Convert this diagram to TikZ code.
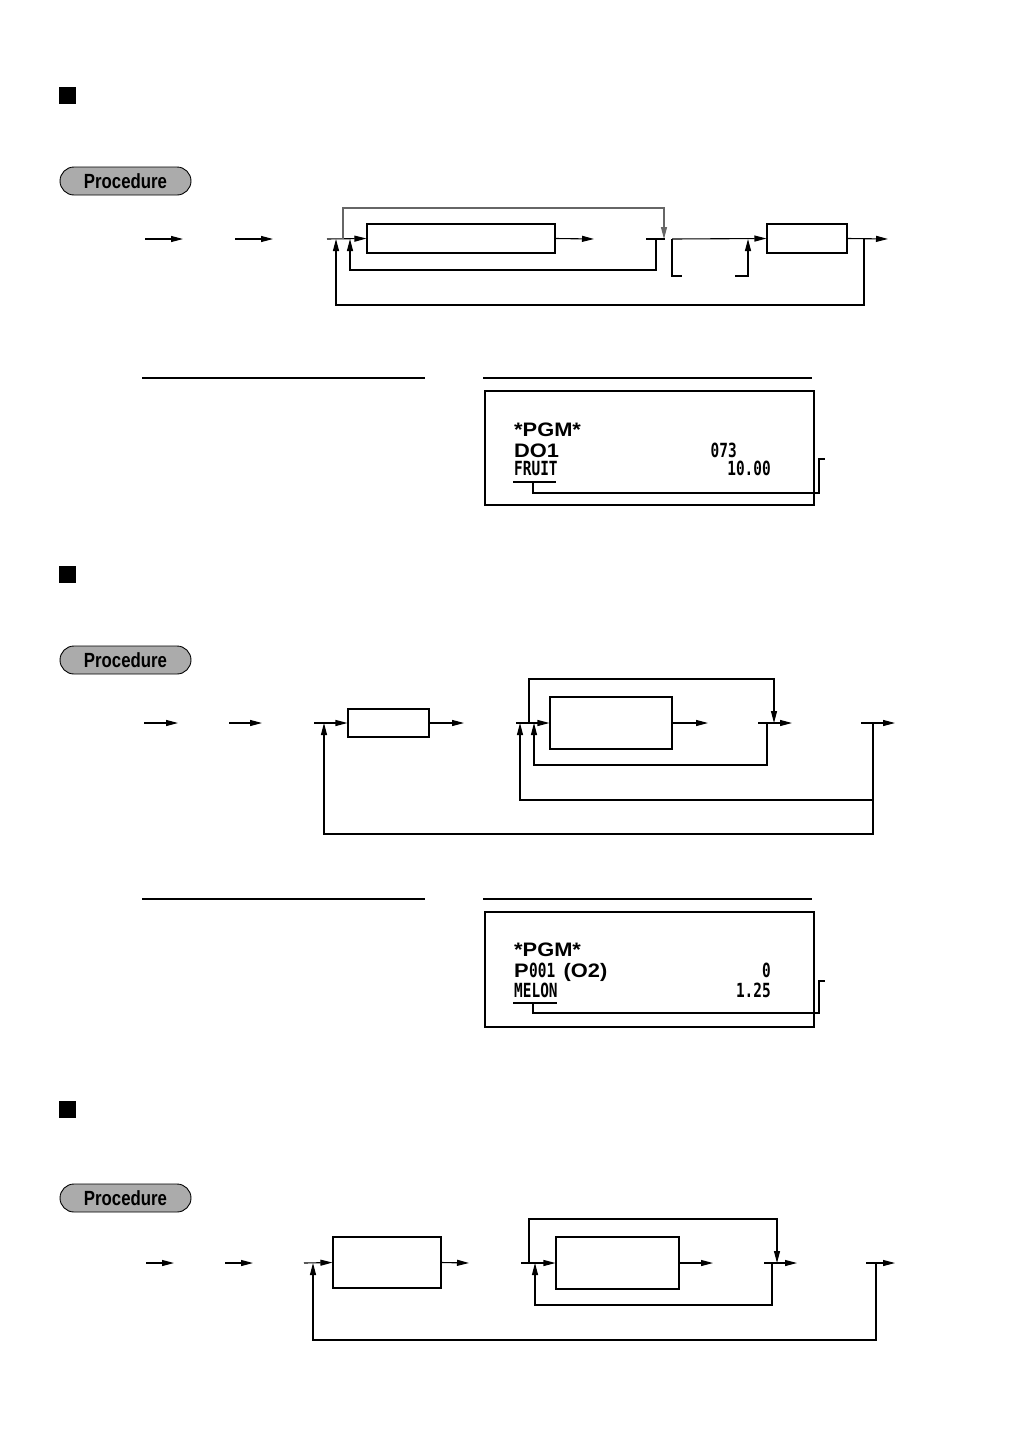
\documentclass[tikz,border=0pt]{standalone}
\usepackage{fontspec}
\usetikzlibrary{arrows.meta}
\newfontfamily\pillfont[FakeStretch=0.82]{Liberation Sans}
\newfontfamily\widefont[FakeStretch=1.12]{Liberation Sans}
\newfontfamily\rcptfont[FakeStretch=0.74]{DejaVu Sans Mono}
\tikzset{
  ln/.style={line width=1.1pt, line join=miter},
  arr/.style={ln, -{Triangle[length=12pt,width=6pt]}},
  gln/.style={line width=1.1pt, draw=black!60},
  garr/.style={gln, -{Triangle[length=12pt,width=6pt]}, black!60},
  keybox/.style={draw, line width=1.1pt, inner sep=0pt},
  pill/.style={draw, line width=0.9pt, fill=black!33, rounded corners=14pt,
    minimum width=131pt, minimum height=28pt, inner sep=0pt,
    font=\pillfont\bfseries\fontsize{20.5}{20.5}\selectfont},
  sqmark/.style={fill=black, minimum size=17pt, inner sep=0pt},
  rcpt/.style={draw, line width=1.1pt, inner sep=0pt},
  wide/.style={inner sep=0pt, font=\widefont\bfseries\fontsize{19.5}{19.5}\selectfont},
  mono/.style={inner sep=0pt, font=\rcptfont\bfseries\fontsize{19.5}{19.5}\selectfont},
}
\begin{document}
\begin{tikzpicture}[x=1pt,y=-1pt]
\useasboundingbox (0,0) rectangle (1030,1456);
\fill[white] (0,0) rectangle (1030,1456);

% ---------------- Section 1 ----------------
\node[sqmark] (sq1) at (67.5,95.5) {};
\node[pill] (p1) at (125.5,181) {Procedure};

\coordinate (a1s) at (145,239); \coordinate (a1e) at (183,239);
\coordinate (a2s) at (235,239); \coordinate (a2e) at (273,239);
\draw[arr] (a1s) -- (a1e);
\draw[arr] (a2s) -- (a2e);

\node[keybox, minimum width=188pt, minimum height=29pt] (b1) at (461,238.5) {};
\node[keybox, minimum width=80pt, minimum height=29pt] (b2) at (807,238.5) {};

\coordinate (s1) at (327,239);
\coordinate (j1) at (343,239);
\coordinate (t1) at (664,239);
\draw[arr] (s1) -- (b1.west);
\draw[garr] (j1) -- (343,208) -- (664,208) -- (t1);
\coordinate (o1e) at (594,239);
\draw[arr] (b1.east) -- (o1e);
\coordinate (m1s) at (646,239); \coordinate (m1e) at (665,239);
\draw[ln] (m1s) -- (m1e);
\coordinate (il1) at (656,239); \coordinate (il1t) at (350,239);
\draw[arr] (il1) -- (656,270) -- (350,270) -- (il1t);
\coordinate (n1) at (672,239);
\draw[arr] (n1) -- (b2.west);
\coordinate (by1) at (682,276);
\draw[ln] (n1) -- (672,276) -- (by1);
\coordinate (by2) at (735,276); \coordinate (by2t) at (748,239);
\draw[arr] (by2) -- (748,276) -- (by2t);
\coordinate (e1) at (888,239);
\draw[arr] (b2.east) -- (e1);
\coordinate (v1) at (864,239); \coordinate (ol1t) at (336,239);
\draw[arr] (v1) -- (864,305) -- (336,305) -- (ol1t);

% receipt 1
\coordinate (hl1a) at (142,378); \coordinate (hl1b) at (425,378);
\coordinate (hl2a) at (483,378); \coordinate (hl2b) at (812,378);
\draw[ln] (hl1a) -- (hl1b);
\draw[ln] (hl2a) -- (hl2b);
\node[rcpt, minimum width=329pt, minimum height=114pt] (r1) at (649.5,448) {};
\node[wide, anchor=base west] (r1l1) at (514,436) {*PGM*};
\node[wide, anchor=base west] (r1l2) at (514,457) {DO1};
\node[mono, anchor=base east] (r1n1) at (737,457) {073};
\node[mono, anchor=base west] (r1l3) at (514,475) {FRUIT};
\node[mono, anchor=base east] (r1n2) at (771,475) {10.00};
\coordinate (u1a) at (513,482); \coordinate (u1b) at (556,482);
\draw[ln] (u1a) -- (u1b);
\coordinate (u1m) at (533,482); \coordinate (u1e) at (825,459);
\draw[ln] (u1m) -- (533,493) -- (819,493) -- (819,459) -- (u1e);

% ---------------- Section 2 ----------------
\node[sqmark] (sq2) at (67.5,574.5) {};
\node[pill] (p2) at (125.5,660) {Procedure};

\coordinate (c1s) at (144,723); \coordinate (c1e) at (178,723);
\coordinate (c2s) at (229,723); \coordinate (c2e) at (262,723);
\draw[arr] (c1s) -- (c1e);
\draw[arr] (c2s) -- (c2e);

\node[keybox, minimum width=81pt, minimum height=28pt] (bA) at (388.5,723) {};
\node[keybox, minimum width=122pt, minimum height=52pt] (bB) at (611,723) {};

\coordinate (s2) at (314,723);
\draw[arr] (s2) -- (bA.west);
\coordinate (oA) at (464,723);
\draw[arr] (bA.east) -- (oA);
\coordinate (s3) at (516,723);
\draw[arr] (s3) -- (bB.west);
\coordinate (j2) at (529,723); \coordinate (t2) at (774,723);
\draw[arr] (j2) -- (529,679) -- (774,679) -- (t2);
\coordinate (il2) at (767,723); \coordinate (il2t) at (534,723);
\draw[arr] (il2) -- (767,765) -- (534,765) -- (il2t);
\coordinate (oB) at (708,723);
\draw[arr] (bB.east) -- (oB);
\coordinate (m2s) at (758,723); \coordinate (m2e) at (792,723);
\draw[arr] (m2s) -- (m2e);
\coordinate (m3s) at (861,723); \coordinate (m3e) at (895,723);
\draw[arr] (m3s) -- (m3e);
\coordinate (v2) at (873,723); \coordinate (l2t) at (520,723); \coordinate (ol2t) at (324,723);
\draw[arr] (v2) -- (873,800) -- (520,800) -- (l2t);
\draw[arr] (873,800) -- (873,834) -- (324,834) -- (ol2t);

% receipt 2
\coordinate (hl3a) at (142,899); \coordinate (hl3b) at (425,899);
\coordinate (hl4a) at (483,899); \coordinate (hl4b) at (812,899);
\draw[ln] (hl3a) -- (hl3b);
\draw[ln] (hl4a) -- (hl4b);
\node[rcpt, minimum width=329pt, minimum height=115pt] (r2) at (649.5,969.5) {};
\node[wide, anchor=base west] (r2l1) at (514,956) {*PGM*};
\node[wide, anchor=base west] (r2p) at (514,977) {P};
\node[mono, anchor=base west] (r2d) at (r2p.base east) {001};
\node[wide, anchor=base west] (r2b) at ([xshift=8pt]r2d.base east) {(O2)};
\node[mono, anchor=base east] (r2n1) at (771,977) {0};
\node[mono, anchor=base west] (r2l3) at (514,997) {MELON};
\node[mono, anchor=base east] (r2n2) at (771,997) {1.25};
\coordinate (u2a) at (513,1003); \coordinate (u2b) at (557,1003);
\draw[ln] (u2a) -- (u2b);
\coordinate (u2m) at (533,1003); \coordinate (u2e) at (825,981);
\draw[ln] (u2m) -- (533,1013) -- (819,1013) -- (819,981) -- (u2e);

% ---------------- Section 3 ----------------
\node[sqmark] (sq3) at (67.5,1109) {};
\node[pill] (p3) at (125.5,1198) {Procedure};

\coordinate (d1s) at (146,1263); \coordinate (d1e) at (174,1263);
\coordinate (d2s) at (225,1263); \coordinate (d2e) at (253,1263);
\draw[arr] (d1s) -- (d1e);
\draw[arr] (d2s) -- (d2e);

\node[keybox, minimum width=108pt, minimum height=51pt] (bC) at (387,1262.5) {};
\node[keybox, minimum width=123pt, minimum height=52pt] (bD) at (617.5,1263) {};

\coordinate (s4) at (304,1263);
\draw[arr] (s4) -- (bC.west);
\coordinate (oC) at (469,1263);
\draw[arr] (bC.east) -- (oC);
\coordinate (s5) at (521,1263);
\draw[arr] (s5) -- (bD.west);
\coordinate (j3) at (529,1263); \coordinate (t3) at (777,1263);
\draw[arr] (j3) -- (529,1219) -- (777,1219) -- (t3);
\coordinate (il3) at (772,1263); \coordinate (il3t) at (535,1263);
\draw[arr] (il3) -- (772,1305) -- (535,1305) -- (il3t);
\coordinate (oD) at (713,1263);
\draw[arr] (bD.east) -- (oD);
\coordinate (m4s) at (764,1263); \coordinate (m4e) at (797,1263);
\draw[arr] (m4s) -- (m4e);
\coordinate (m5s) at (866,1263); \coordinate (m5e) at (895,1263);
\draw[arr] (m5s) -- (m5e);
\coordinate (v3) at (876,1263); \coordinate (ol3t) at (313,1263);
\draw[arr] (v3) -- (876,1340) -- (313,1340) -- (ol3t);
\end{tikzpicture}
\end{document}
